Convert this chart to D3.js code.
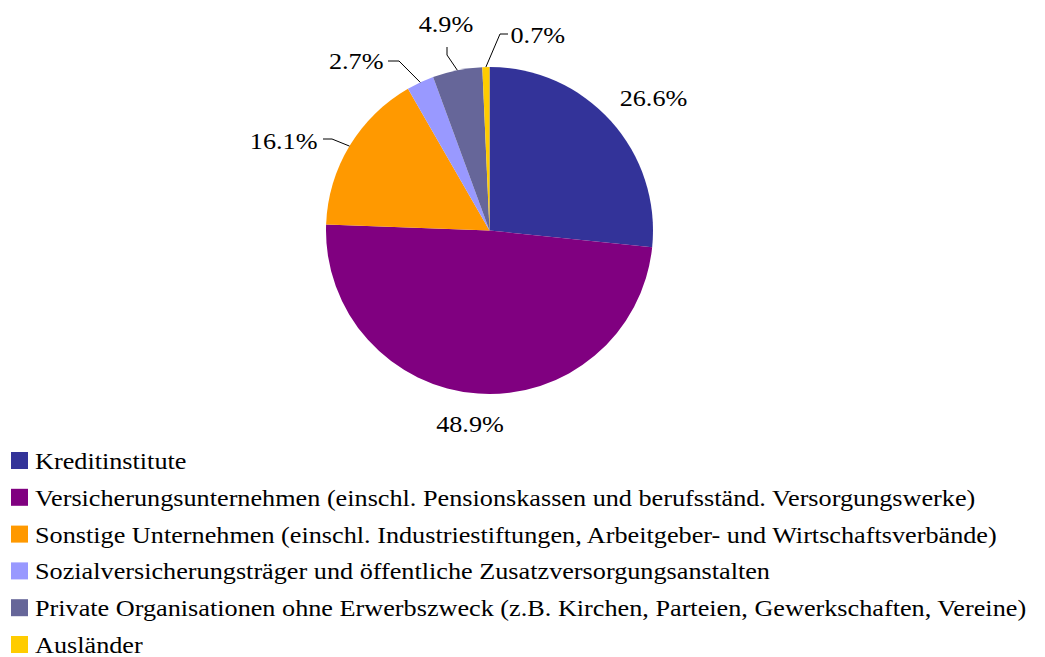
<!DOCTYPE html>
<html>
<head>
<meta charset="utf-8">
<script src="https://cdn.jsdelivr.net/npm/d3@7"></script>
</head>
<body style="margin:0;background:#fff">
<div id="chart"></div>
<script>
// Anteile in Prozent
const categories = [
  'Kreditinstitute',
  'Versicherungsunternehmen (einschl. Pensionskassen und berufsständ. Versorgungswerke)',
  'Sonstige Unternehmen (einschl. Industriestiftungen, Arbeitgeber- und Wirtschaftsverbände)',
  'Sozialversicherungsträger und öffentliche Zusatzversorgungsanstalten',
  'Private Organisationen ohne Erwerbszweck (z.B. Kirchen, Parteien, Gewerkschaften, Vereine)',
  'Ausländer'
];
const values = [26.6, 48.9, 16.1, 2.7, 4.9, 0.7];
const labels = ['26.6%', '48.9%', '16.1%', '2.7%', '4.9%', '0.7%'];
const colors = ['#333399', '#800080', '#FF9900', '#9999FF', '#666699', '#FFCC00'];

const width = 1045, height = 657;
const cx = 489.5, cy = 230.5, radius = 163.5;
const fontSize = 23, stretch = 1.14; // text in the original is a bit wide

// label placement relative to the pie centre: text point, anchor, leader elbow and leader end
const labelLayout = [
  { x: 164, y: -124.5, anchor: 'middle' },
  { x: -19.5, y: 201.5, anchor: 'middle' },
  { x: -172, y: -81.5, anchor: 'end', elbow: [-157.5, -91.5], tail: [-166.5, -91.5] },
  { x: -106, y: -161.5, anchor: 'end', elbow: [-90.5, -169.5], tail: [-101.5, -169.5] },
  { x: -43.5, y: -198.5, anchor: 'middle', elbow: [-42.5, -175.5], tail: [-42.5, -183.5] },
  { x: 21, y: -187.5, anchor: 'start', elbow: [10.5, -196.5], tail: [18.5, -196.5] }
];

const svg = d3.select('#chart').append('svg')
  .attr('width', width)
  .attr('height', height);

// legend
const items = svg.append('g').selectAll('g')
  .data(categories)
  .join('g')
  .attr('transform', (d, i) => `translate(0,${469 + i * 36.8})`);

items.append('rect')
  .attr('x', 11)
  .attr('y', -17)
  .attr('width', 17)
  .attr('height', 17)
  .attr('fill', (d, i) => colors[i]);

items.append('text')
  .attr('transform', `translate(35,0) scale(${stretch},1)`)
  .attr('font-family', 'Liberation Serif')
  .attr('font-size', fontSize)
  .text(d => d);

// pie
const pie = d3.pie().sort(null).value(d => d)(values);
const arc = d3.arc().innerRadius(0).outerRadius(radius);

const g = svg.append('g').attr('transform', `translate(${cx},${cy})`);

g.selectAll('path')
  .data(pie)
  .join('path')
  .attr('d', arc)
  .attr('fill', (d, i) => colors[i]);

// leader lines for the small slices
pie.forEach((d, i) => {
  const L = labelLayout[i];
  if (!L.elbow) return;
  const a = (d.startAngle + d.endAngle) / 2;
  const p0 = [Math.sin(a) * radius, -Math.cos(a) * radius];
  g.append('polyline')
    .attr('points', [p0, L.elbow, L.tail].map(p => p.join(',')).join(' '))
    .attr('fill', 'none')
    .attr('stroke', '#000')
    .attr('stroke-width', 1);
});

pie.forEach((d, i) => {
  const L = labelLayout[i];
  g.append('text')
    .attr('transform', `translate(${L.x},${L.y}) scale(${stretch},1)`)
    .attr('text-anchor', L.anchor)
    .attr('font-family', 'Liberation Serif')
    .attr('font-size', fontSize)
    .text(labels[i]);
});
</script>
</body>
</html>
